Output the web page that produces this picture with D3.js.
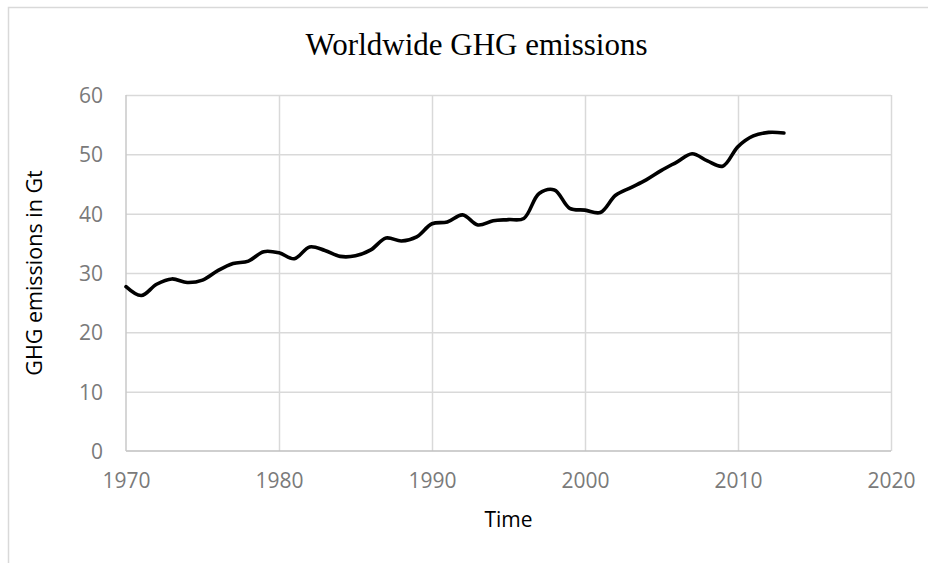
<!DOCTYPE html>
<html>
<head>
<meta charset="utf-8">
<script src="https://cdn.jsdelivr.net/npm/d3@7"></script>
<style>
  html, body { margin: 0; padding: 0; background: #fff; }
  svg { display: block; }
</style>
</head>
<body>
<svg id="chart" width="928" height="563"></svg>
<script>
// Worldwide GHG emissions, Gt per year
const years = [1970, 1971, 1972, 1973, 1974, 1975, 1976, 1977, 1978, 1979,
               1980, 1981, 1982, 1983, 1984, 1985, 1986, 1987, 1988, 1989,
               1990, 1991, 1992, 1993, 1994, 1995, 1996, 1997, 1998, 1999,
               2000, 2001, 2002, 2003, 2004, 2005, 2006, 2007, 2008, 2009,
               2010, 2011, 2012, 2013];
const emissions = [27.7, 26.2, 28.1, 29.0, 28.4, 28.8, 30.4, 31.6, 32.0, 33.6,
                   33.4, 32.4, 34.4, 33.8, 32.8, 32.9, 33.9, 35.9, 35.4, 36.1,
                   38.3, 38.6, 39.8, 38.1, 38.8, 39.0, 39.2, 43.4, 44.0, 40.9,
                   40.6, 40.2, 43.1, 44.4, 45.7, 47.3, 48.7, 50.1, 48.9, 48.0,
                   51.3, 53.1, 53.7, 53.6];
const xTicks = [1970, 1980, 1990, 2000, 2010, 2020];
const yTicks = [0, 10, 20, 30, 40, 50, 60];

const title = "Worldwide GHG emissions";
const xTitle = "Time";
const yTitle = "GHG emissions in Gt";

const svg = d3.select("#chart");
const W = 928, H = 563;
const plot = { left: 126, right: 891, top: 95, bottom: 451 };

const x = d3.scaleLinear().domain([1970, 2020]).range([plot.left, plot.right]);
const y = d3.scaleLinear().domain([0, 60]).range([plot.bottom, plot.top]);

const labelFont = "'Open Sans', 'Noto Sans', sans-serif";

// chart frame
svg.append("rect")
  .attr("x", 8.5).attr("y", 7.5)
  .attr("width", W + 20).attr("height", H + 20)
  .attr("fill", "#fff")
  .attr("stroke", "#d9d9d9").attr("stroke-width", 1.5);

// title
svg.append("text")
  .attr("x", (plot.left + plot.right) / 2 - 32)
  .attr("y", 55)
  .attr("text-anchor", "middle")
  .attr("font-family", "'Liberation Serif', 'Times New Roman', serif")
  .attr("font-size", 31)
  .attr("fill", "#000")
  .text(title);

// horizontal gridlines
svg.append("g")
  .attr("transform", `translate(${plot.left},0)`)
  .call(d3.axisLeft(y).tickValues(yTicks.filter(v => v > 0))
    .tickSize(-(plot.right - plot.left)).tickFormat(""))
  .call(g => g.select(".domain").remove())
  .call(g => g.selectAll("line").attr("stroke", "#d9d9d9").attr("stroke-width", 1.5));

// vertical gridlines
svg.append("g")
  .attr("transform", `translate(0,${plot.bottom})`)
  .call(d3.axisBottom(x).tickValues(xTicks.filter(v => v > 1970))
    .tickSize(-(plot.bottom - plot.top)).tickFormat(""))
  .call(g => g.select(".domain").remove())
  .call(g => g.selectAll("line").attr("stroke", "#d9d9d9").attr("stroke-width", 1.5));

// axis lines
svg.append("line")
  .attr("x1", plot.left).attr("x2", plot.right)
  .attr("y1", plot.bottom).attr("y2", plot.bottom)
  .attr("stroke", "#bfbfbf").attr("stroke-width", 1.5);
svg.append("line")
  .attr("x1", plot.left).attr("x2", plot.left)
  .attr("y1", plot.top).attr("y2", plot.bottom)
  .attr("stroke", "#c8c8c8").attr("stroke-width", 1.5);

// x tick labels
svg.append("g")
  .attr("transform", `translate(0,${plot.bottom})`)
  .call(d3.axisBottom(x).tickValues(xTicks).tickSize(0).tickPadding(0).tickFormat(d3.format("d")))
  .call(g => g.select(".domain").remove())
  .call(g => g.selectAll("text")
    .attr("y", 37).attr("dy", 0)
    .attr("font-family", labelFont).attr("font-size", 21).attr("fill", "#7a7a7a"));

// y tick labels
svg.append("g")
  .attr("transform", `translate(${plot.left},0)`)
  .call(d3.axisLeft(y).tickValues(yTicks).tickSize(0).tickPadding(23))
  .call(g => g.select(".domain").remove())
  .call(g => g.selectAll("text")
    .attr("dy", "0.35em")
    .attr("font-family", labelFont).attr("font-size", 21).attr("fill", "#7a7a7a"));

// axis titles
svg.append("text")
  .attr("x", (plot.left + plot.right) / 2)
  .attr("y", 527)
  .attr("text-anchor", "middle")
  .attr("font-family", labelFont).attr("font-size", 21).attr("fill", "#000")
  .text(xTitle);

svg.append("text")
  .attr("transform", `translate(42,${(plot.top + plot.bottom) / 2}) rotate(-90)`)
  .attr("text-anchor", "middle")
  .attr("font-family", labelFont).attr("font-size", 21.5).attr("fill", "#000")
  .text(yTitle);

// emissions line
const line = d3.line()
  .x((d, i) => x(years[i]))
  .y(d => y(d))
  .curve(d3.curveCatmullRom.alpha(0.5));

svg.append("path")
  .datum(emissions)
  .attr("d", line)
  .attr("fill", "none")
  .attr("stroke", "#000")
  .attr("stroke-width", 3.6)
  .attr("stroke-linecap", "round")
  .attr("stroke-linejoin", "round");
</script>
</body>
</html>
